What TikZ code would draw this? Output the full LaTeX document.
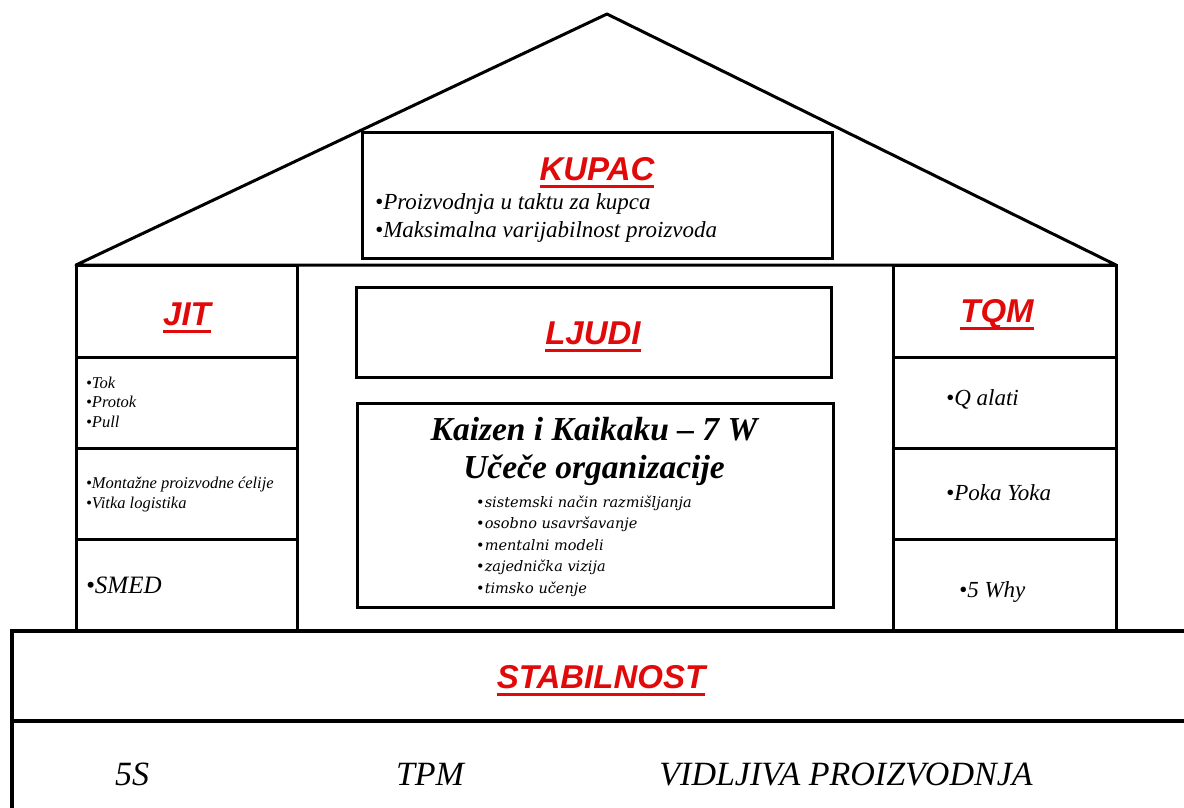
\documentclass[tikz,border=0pt]{standalone}
\usepackage{fontspec}
\setmainfont{Liberation Serif}
\newfontfamily\hdfont{Liberation Sans}
\newfontfamily\kfont{DejaVu Serif}
\definecolor{hred}{RGB}{225,10,10}
\newcommand\redul[1]{\setbox0=\hbox{#1}\leavevmode\rlap{\usebox0}\rule[-8pt]{\wd0}{3pt}}
\tikzset{
  frame/.style={draw=black, line width=3pt},
  boxnode/.style={draw=black, line width=3pt, inner sep=0pt, fill=white},
  hd/.style={font=\hdfont\bfseries\itshape\fontsize{33}{36}\selectfont, text=hred, anchor=base, inner sep=0pt},
  small/.style={font=\itshape\fontsize{16.5}{19.5}\selectfont, align=left, anchor=base west, inner sep=0pt},
  mid/.style={font=\itshape\fontsize{23}{26}\selectfont, anchor=base west, inner sep=0pt},
  kup/.style={font=\itshape\fontsize{23}{27.5}\selectfont, align=left, anchor=base west, inner sep=0pt},
  ktitle/.style={font=\bfseries\itshape\fontsize{33.5}{36}\selectfont, anchor=base, inner sep=0pt},
  klist/.style={font=\kfont\itshape\fontsize{14.5}{21.5}\selectfont, align=left, anchor=base west, inner sep=0pt},
  basetxt/.style={font=\itshape\fontsize{34}{40}\selectfont, anchor=base, inner sep=0pt}
}
\begin{document}
\begin{tikzpicture}[x=1pt,y=-1pt]
\useasboundingbox (0,0) rectangle (1184,807);
\clip (0,0) rectangle (1184,807);
% roof
\coordinate (apex) at (607,14);
\coordinate (roofL) at (76,265);
\coordinate (roofR) at (1116,265);
\draw[frame, line join=round] (roofL) -- (apex) -- (roofR) -- cycle;
% columns
\coordinate (lcTL) at (76,265);
\coordinate (lcBR) at (297,631);
\coordinate (rcTL) at (893,265);
\coordinate (rcBR) at (1116,631);
\draw[frame] (lcTL) rectangle (lcBR);
\draw[frame] (rcTL) rectangle (rcBR);
\foreach \yy in {357,448,539}{
  \draw[frame] (76,\yy) -- (297,\yy);
  \draw[frame] (893,\yy) -- (1116,\yy);
}
% base
\coordinate (bTL) at (12,631);
\coordinate (bTR) at (1200,631);
\coordinate (bML) at (12,721);
\coordinate (bMR) at (1200,721);
\coordinate (bBL) at (12,820);
\draw[line width=4pt] (bBL) -- (bTL) -- (bTR);
\draw[line width=4pt] (bML) -- (bMR);
% central boxes
\node[boxnode, minimum width=470pt, minimum height=126pt] (kupacbox) at (597,195) {};
\node[boxnode, minimum width=475pt, minimum height=90pt] (ljudibox) at (593.5,332) {};
\node[boxnode, minimum width=476pt, minimum height=204pt] (kaizenbox) at (595,505) {};
% headers
\node[hd] (kupac) at (597,180) {\redul{KUPAC}};
\node[hd] (ljudi) at (593,344) {\redul{LJUDI}};
\node[hd] (jit) at (187,325) {\redul{JIT}};
\node[hd] (tqm) at (997,322) {\redul{TQM}};
\node[hd] (stab) at (601,688) {\redul{STABILNOST}};
% kupac list (anchor = baseline of last line)
\node[kup] (kupl) at (375,237) {•Proizvodnja u taktu za kupca\\•Maksimalna varijabilnost proizvoda};
% left column
\node[small] (jit1) at (86,427) {•Tok\\•Protok\\•Pull};
\node[small] (jit2) at (86,508) {•Montažne proizvodne ćelije\\•Vitka logistika};
\node[mid, font=\itshape\fontsize{25}{28}\selectfont] (jit3) at (86,593) {•SMED};
% right column
\node[mid] (tqm1) at (946,405) {•Q alati};
\node[mid] (tqm2) at (946,500) {•Poka Yoka};
\node[mid] (tqm3) at (959,597) {•5 Why};
% kaizen
\node[ktitle] (kt1) at (594,440) {Kaizen i Kaikaku – 7 W};
\node[ktitle] (kt2) at (594,478) {Učeče organizacije};
\node[klist] (kl) at (476,593) {•sistemski način razmišljanja\\•osobno usavršavanje\\•mentalni modeli\\•zajednička vizija\\•timsko učenje};
% base row
\node[basetxt] (s5) at (132,785) {5S};
\node[basetxt] (tpm) at (430,785) {TPM};
\node[basetxt] (vid) at (846,785) {VIDLJIVA PROIZVODNJA};
\end{tikzpicture}
\end{document}
